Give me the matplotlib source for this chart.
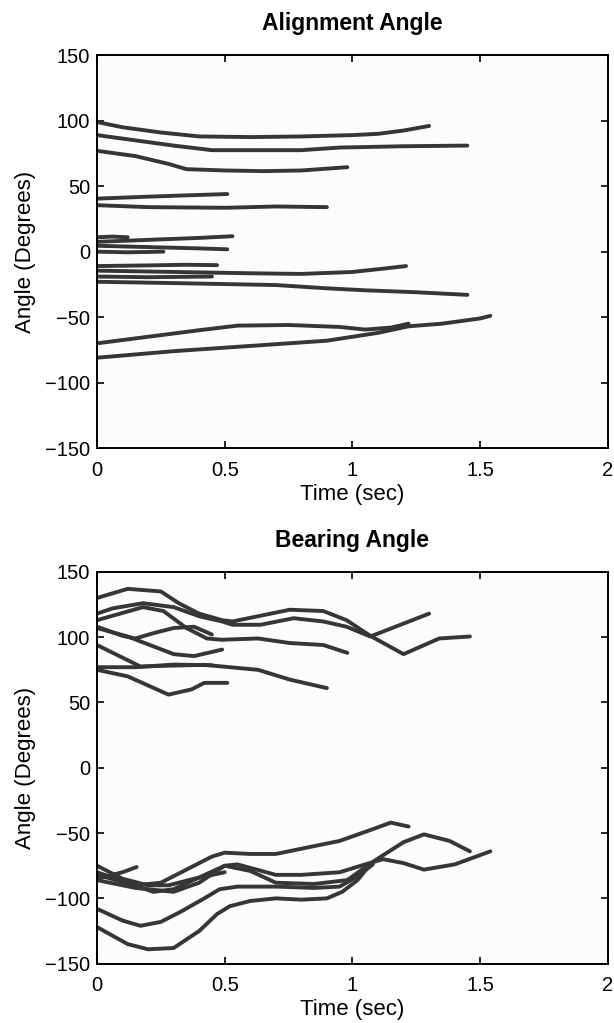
import matplotlib
matplotlib.use("Agg")
import matplotlib.pyplot as plt

plt.rcParams['font.family'] = ['Liberation Sans', 'DejaVu Sans']

# ---- Alignment angle tracks: (time s, angle deg) ----
align_t = [
    [0, 0.1, 0.25, 0.4, 0.6, 0.8, 1.0, 1.1, 1.2, 1.3],
    [0, 0.15, 0.3, 0.45, 0.8, 0.95, 1.2, 1.45],
    [0, 0.15, 0.28, 0.35, 0.5, 0.65, 0.8, 0.98],
    [0, 0.2, 0.35, 0.51],
    [0, 0.2, 0.5, 0.7, 0.9],
    [0, 0.2, 0.4, 0.53],
    [0, 0.06, 0.12],
    [0, 0.2, 0.4, 0.51],
    [0, 0.12, 0.26],
    [0, 0.2, 0.35, 0.47],
    [0, 0.3, 0.6, 0.8, 1.0, 1.12, 1.21],
    [0, 0.2, 0.45],
    [0, 0.3, 0.7, 0.9, 1.05, 1.25, 1.45],
    [0, 0.2, 0.4, 0.55, 0.75, 0.95, 1.05, 1.15, 1.22],
    [0, 0.3, 0.6, 0.9, 1.1, 1.22, 1.35, 1.5, 1.54],
]
align_deg = [
    [99, 95, 91, 88, 87.5, 88, 89, 90, 92.5, 96],
    [89, 85, 81, 77.5, 77.5, 79.5, 80.5, 81],
    [77, 73, 67, 63, 62, 61.5, 62, 64.5],
    [40.5, 42, 43, 44],
    [35.5, 34, 33.5, 34.5, 34],
    [7.5, 9, 10.5, 11.8],
    [11, 11.5, 11],
    [4.5, 3.5, 2.5, 1.8],
    [0, -0.5, 0],
    [-11, -10.5, -10, -10.3],
    [-14.5, -15.5, -16.5, -17, -15.5, -13, -11],
    [-19, -19.5, -19],
    [-23, -24, -25.5, -28, -29.5, -31, -33],
    [-70, -65, -60, -56.5, -56, -57.5, -59.5, -58, -55],
    [-81, -76, -72, -68, -62, -57, -55, -51, -49],
]

# ---- Bearing angle tracks ----
bear_t = [
    [0, 0.12, 0.25, 0.32, 0.4, 0.49, 0.53, 0.63, 0.755, 0.886, 0.977, 1.07, 1.2, 1.34, 1.46],
    [0, 0.06, 0.18, 0.3, 0.4, 0.49, 0.53, 0.64, 0.77, 0.886, 0.977, 1.07, 1.3],
    [0, 0.09, 0.18, 0.26, 0.35, 0.43, 0.49, 0.63, 0.755, 0.886, 0.98],
    [0, 0.1, 0.15, 0.22, 0.3, 0.38, 0.45],
    [0, 0.12, 0.3, 0.38, 0.49],
    [0, 0.17, 0.25, 0.42, 0.63, 0.755, 0.9],
    [0, 0.12, 0.28, 0.37, 0.42, 0.51],
    [0, 0.15, 0.3, 0.45],
    [0, 0.15, 0.25, 0.35, 0.45, 0.5, 0.6, 0.7, 0.8, 0.95, 1.08, 1.15, 1.22],
    [0, 0.15, 0.3, 0.4, 0.5, 0.55, 0.7, 0.8, 0.95, 1.05, 1.12, 1.2, 1.28, 1.4, 1.54],
    [0, 0.12, 0.22, 0.3, 0.4, 0.5, 0.6, 0.7, 0.85, 0.98, 1.08, 1.2, 1.28, 1.38, 1.46],
    [0, 0.1, 0.17, 0.25, 0.33, 0.42, 0.48, 0.55, 0.7, 0.85, 0.95, 1.02, 1.08],
    [0, 0.12, 0.2, 0.3, 0.4, 0.47, 0.52, 0.6, 0.7, 0.8, 0.9, 0.96, 1.02, 1.07],
    [0, 0.1, 0.155],
    [0, 0.1, 0.2, 0.28, 0.38, 0.5],
]
bear_deg = [
    [130, 137, 135, 126, 118, 113, 112, 116, 121, 120, 113, 101, 87, 99, 100.5],
    [118, 122, 126, 123, 116, 112, 109.5, 109.5, 114.5, 112, 108, 100.5, 118],
    [113, 118, 123, 120, 107, 99, 98, 99, 95.5, 94, 88],
    [108, 101, 99, 103, 107, 108, 102],
    [107, 100.5, 87, 85.5, 90.5],
    [94, 77.5, 78, 78.8, 75, 67.5, 61],
    [75, 70, 56, 60, 65, 65],
    [77, 77, 79, 78.5],
    [-82, -90, -88, -78, -68, -65, -66, -66, -62, -56, -47, -42, -45],
    [-86, -92, -95, -88, -75, -74, -82, -82, -80, -74, -70, -73, -78, -74, -64],
    [-80, -88, -95, -93, -84, -75, -79, -88, -89, -86, -72, -57, -51, -56, -64],
    [-108, -117, -121, -118, -110, -100, -93, -91, -91, -92, -91, -83, -74],
    [-122, -135, -139, -138, -125, -112, -106, -102, -100, -101, -100, -95, -86, -74],
    [-85, -80, -76],
    [-75, -85, -90, -90, -85, -80],
]

line_color = '#363636'

fig = plt.figure(figsize=(6.14, 10.23), dpi=100)
ax1 = fig.add_axes([0.158, 0.562, 0.832, 0.384])
ax2 = fig.add_axes([0.158, 0.058, 0.832, 0.383])

panels = [(ax1, align_t, align_deg, 'Alignment Angle'),
          (ax2, bear_t, bear_deg, 'Bearing Angle')]

for ax, ts, ds, title in panels:
    for t, d in zip(ts, ds):
        ax.plot(t, d, color=line_color, lw=2.8, solid_capstyle='round',
                solid_joinstyle='round')
    ax.set_xlim(0, 2)
    ax.set_ylim(-150, 150)
    ax.set_xticks([0, 0.5, 1, 1.5, 2], ['0', '0.5', '1', '1.5', '2'])
    ax.set_yticks([-150, -100, -50, 0, 50, 100, 150],
                  ['\u2212150', '\u2212100', '\u221250', '0', '50', '100', '150'])
    ax.tick_params(direction='in', top=True, right=True, length=5, width=1.2,
                   labelsize=14.5, pad=5)
    ax.tick_params(axis='x', pad=9)
    for s in ax.spines.values():
        s.set_linewidth(1.4)
    ax.set_facecolor('#fcfcfc')
    ax.set_title(title, fontsize=16.5, fontweight='bold', pad=18)
    ax.set_xlabel('Time (sec)', fontsize=16, labelpad=3)
    ax.set_ylabel('Angle (Degrees)', fontsize=16, labelpad=6.5)

fig.savefig('out.png', dpi=100)
